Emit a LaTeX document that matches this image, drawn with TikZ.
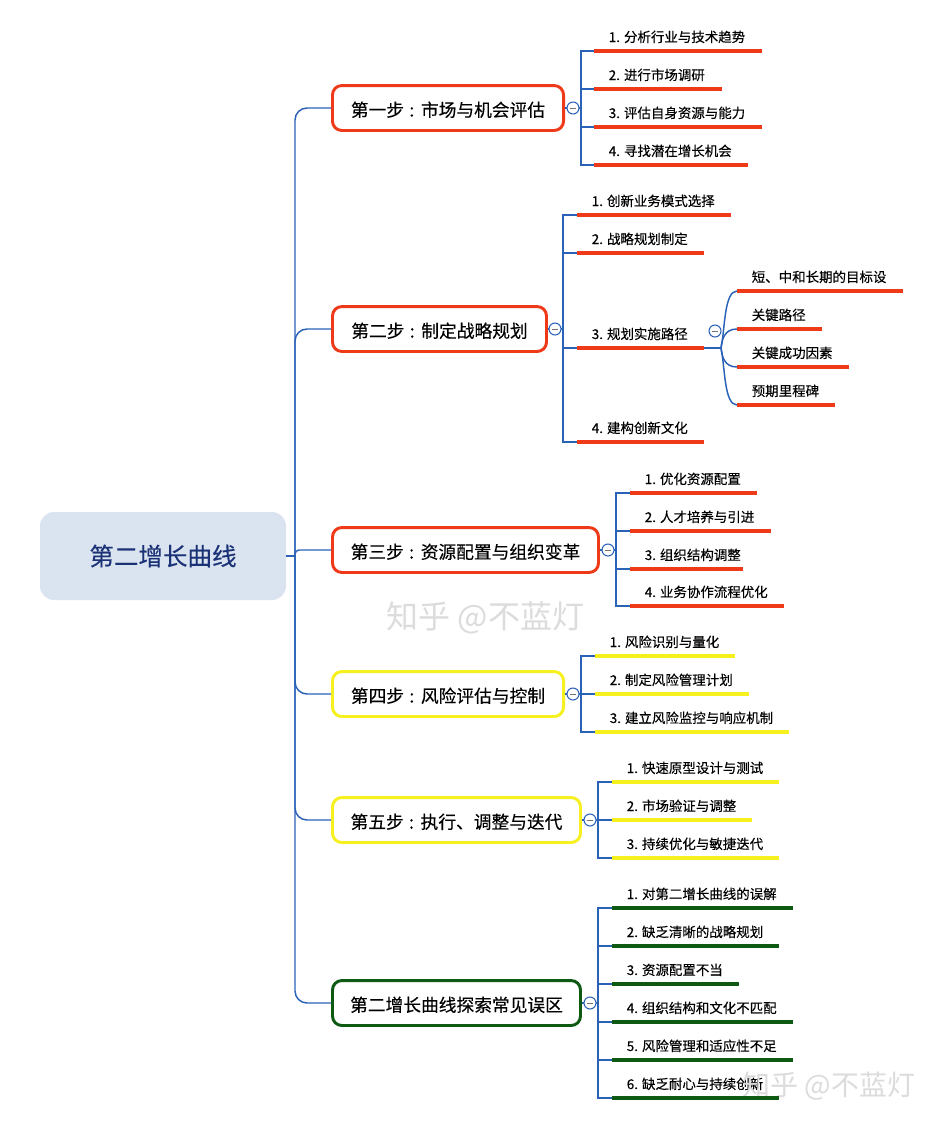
\documentclass[tikz,border=0pt]{standalone}
\usepackage{fontspec}
\setmainfont[FakeBold=0.25]{Noto Sans CJK SC}
\newfontfamily\markfont{Noto Sans CJK SC}
\definecolor{cblue}{HTML}{2A62B8}
\definecolor{cred}{HTML}{EE3A18}
\definecolor{cyel}{HTML}{F6F01E}
\definecolor{cgrn}{HTML}{0F5A12}
\definecolor{croot}{HTML}{DAE4F0}
\definecolor{cnavy}{HTML}{1B3276}
\definecolor{cmark}{HTML}{DCDCDC}
\tikzset{
  rootbox/.style={draw=none,fill=croot,rounded corners=10.5pt,minimum width=184.5pt,minimum height=66pt,inner sep=0pt,text=cnavy,font=\fontsize{18.4pt}{20pt}\selectfont},
  stepbox/.style={draw=#1,fill=white,line width=2.2pt,rounded corners=7pt,minimum height=33.7pt,inner sep=0pt,text=black,text height=14pt,text depth=1.2pt,font=\fontsize{13.3pt}{15pt}\selectfont},
  leaftext/.style={anchor=base west,inner sep=0pt,text=black,font=\fontsize{10.1pt}{12pt}\selectfont},
  bar/.style={draw=#1,line width=3pt},
  conn/.style={draw=cblue,line width=1.1pt},
  trunk/.style={conn,rounded corners=9pt},
  toggle/.style={circle,draw=cblue,fill=white,line width=0.8pt,minimum size=9pt,inner sep=0pt,
    path picture={\draw[black!55,line width=0.6pt] ([xshift=-2.4pt]path picture bounding box.center) -- ([xshift=2.4pt]path picture bounding box.center);}},
  markbig/.style={inner sep=0pt,text=cmark,font=\markfont\fontsize{24pt}{26pt}\selectfont},
  marksmall/.style={inner sep=1pt,text=cmark,font=\markfont\fontsize{21pt}{23pt}\selectfont}
}
\newcommand{\leafitem}[6]{% name, x1, x2, y, colour, text
  \coordinate (#1-a) at (#2,#4);
  \coordinate (#1-b) at (#3,#4);
  \node[leaftext] (#1) at (#2+14.5,#4-9) {#6};
  \draw[bar=#5] (#1-a) -- (#1-b);
}
\begin{document}
\begin{tikzpicture}[x=0.75pt,y=-0.75pt]
\useasboundingbox (0,0) rectangle (938,1125);
\fill[white] (0,0) rectangle (938,1125);

% root and steps
\node[rootbox] (root) at (163,556) {第二增长曲线};
\node[stepbox=cred,minimum width=173.3pt] (s1) at (448,108) {第一步\hspace{1pt} : \hspace{1pt}市场与机会评估\hspace{3pt}};
\node[stepbox=cred,minimum width=160.5pt] (s2) at (439.5,329) {第二步\hspace{1pt} : \hspace{1pt}制定战略规划\hspace{3pt}};
\node[stepbox=cred,minimum width=199.5pt] (s3) at (465.5,550) {第三步\hspace{1pt} : \hspace{1pt}资源配置与组织变革\hspace{3pt}};
\node[stepbox=cyel,minimum width=173.3pt] (s4) at (448,694) {第四步\hspace{1pt} : \hspace{1pt}风险评估与控制\hspace{3pt}};
\node[stepbox=cyel,minimum width=186pt] (s5) at (456.5,820) {第五步\hspace{1pt} : \hspace{1pt}执行、调整与迭代\hspace{3pt}};
\node[stepbox=cgrn,minimum width=186pt] (s6) at (456.5,1003) {第二增长曲线探索常见误区\hspace{1.5pt}};

% trunk
\coordinate (tk) at (295,556);
\draw[conn] (root.east) -- (tk);
\draw[trunk] (tk) |- (s1.west);
\draw[trunk] (tk) |- (s2.west);
\draw[conn,rounded corners=3pt] (tk) |- (s3.west);
\draw[trunk] (tk) |- (s4.west);
\draw[trunk] (tk) |- (s5.west);
\draw[trunk] (tk) |- (s6.west);

% step 1
\leafitem{a1}{594}{762}{51}{cred}{1. 分析行业与技术趋势}
\leafitem{a2}{594}{722}{89}{cred}{2. 进行市场调研}
\leafitem{a3}{594}{762}{127}{cred}{3. 评估自身资源与能力}
\leafitem{a4}{594}{748}{165}{cred}{4. 寻找潜在增长机会}
\coordinate (ja) at (581,108);
\foreach \n in {a1,a2,a3,a4} {\draw[conn] (s1.east) -- (ja) |- (\n-a);}
\node[toggle] (ca) at (573,108) {};

% step 2
\leafitem{b1}{577}{731}{215}{cred}{1. 创新业务模式选择}
\leafitem{b2}{577}{704}{253}{cred}{2. 战略规划制定}
\leafitem{b3}{577}{704}{348}{cred}{3. 规划实施路径}
\leafitem{b4}{577}{704}{442}{cred}{4. 建构创新文化}
\coordinate (jb) at (563,329);
\foreach \n in {b1,b2,b3,b4} {\draw[conn] (s2.east) -- (jb) |- (\n-a);}
\node[toggle] (cb) at (555,329) {};

% step 2 sub-branch
\leafitem{d1}{737}{903}{291}{cred}{短、中和长期的目标设}
\leafitem{d2}{737}{822}{329}{cred}{关键路径}
\leafitem{d3}{737}{849}{367}{cred}{关键成功因素}
\leafitem{d4}{737}{835}{405}{cred}{预期里程碑}
\coordinate (jd) at (721,348);
\draw[conn] (b3-b) -- (jd);
\draw[conn] (jd) .. controls (725,330) and (724,291) .. (d1-a);
\draw[conn] (jd) .. controls (722,340) and (724,329) .. (d2-a);
\draw[conn] (jd) .. controls (722,356) and (724,367) .. (d3-a);
\draw[conn] (jd) .. controls (725,366) and (724,405) .. (d4-a);
\node[toggle] (cd) at (715,331) {};

% step 3
\leafitem{e1}{630}{757}{493}{cred}{1. 优化资源配置}
\leafitem{e2}{630}{771}{531}{cred}{2. 人才培养与引进}
\leafitem{e3}{630}{743}{569}{cred}{3. 组织结构调整}
\leafitem{e4}{630}{784}{606}{cred}{4. 业务协作流程优化}
\coordinate (je) at (616,550);
\foreach \n in {e1,e2,e3,e4} {\draw[conn] (s3.east) -- (je) |- (\n-a);}
\node[toggle] (ce) at (608,550) {};

% step 4
\leafitem{f1}{595}{735}{656}{cyel}{1. 风险识别与量化}
\leafitem{f2}{595}{749}{694}{cyel}{2. 制定风险管理计划}
\leafitem{f3}{595}{789}{732}{cyel}{3. 建立风险监控与响应机制}
\coordinate (jf) at (581,694);
\foreach \n in {f1,f2,f3} {\draw[conn] (s4.east) -- (jf) |- (\n-a);}
\node[toggle] (cf) at (573,694) {};

% step 5
\leafitem{g1}{612}{779}{782}{cyel}{1. 快速原型设计与测试}
\leafitem{g2}{612}{752}{820}{cyel}{2. 市场验证与调整}
\leafitem{g3}{612}{779}{858}{cyel}{3. 持续优化与敏捷迭代}
\coordinate (jg) at (598,820);
\foreach \n in {g1,g2,g3} {\draw[conn] (s5.east) -- (jg) |- (\n-a);}
\node[toggle] (cg) at (590,820) {};

% step 6
\leafitem{h1}{612}{793}{908}{cgrn}{1. 对第二增长曲线的误解}
\leafitem{h2}{612}{779}{946}{cgrn}{2. 缺乏清晰的战略规划}
\leafitem{h3}{612}{739}{984}{cgrn}{3. 资源配置不当}
\leafitem{h4}{612}{793}{1022}{cgrn}{4. 组织结构和文化不匹配}
\leafitem{h5}{612}{793}{1060}{cgrn}{5. 风险管理和适应性不足}
\coordinate (h6-a) at (612,1098);
\coordinate (h6-b) at (779,1098);
\node[leaftext] (h6) at (626.5,1089) {6. 缺乏耐心与持续创新};
\coordinate (jh) at (598,1003);
\foreach \n in {h1,h2,h3,h4,h5,h6} {\draw[conn] (s6.east) -- (jh) |- (\n-a);}
\node[toggle] (ch) at (590,1003) {};

% watermarks
\node[markbig] (wm1) at (485.5,618) {知乎 @不蓝灯};
\node[marksmall,anchor=east,text height=15pt,text depth=1pt] (wm2) at (917,1086) {知乎 @不蓝灯};
\draw[bar=cgrn] (h6-a) -- (h6-b);
\end{tikzpicture}
\end{document}
